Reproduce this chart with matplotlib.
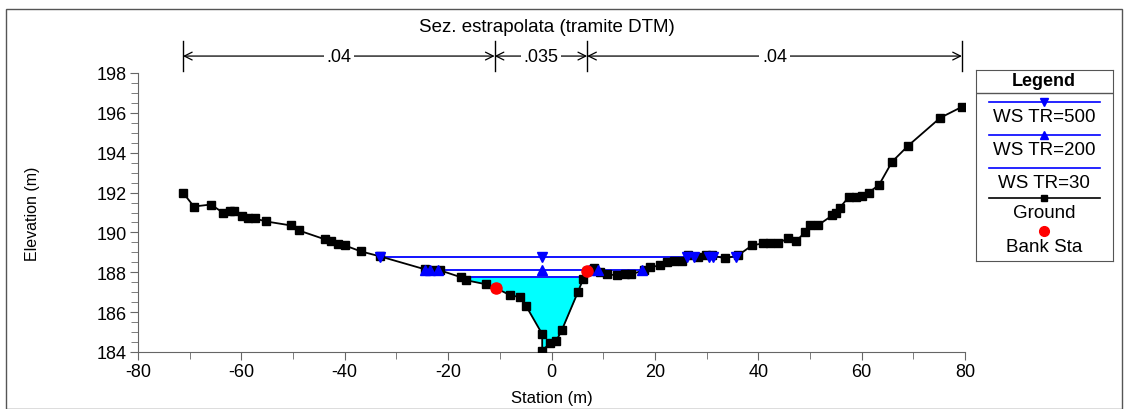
import numpy as np
import matplotlib
matplotlib.use('Agg')
import matplotlib.pyplot as plt
from matplotlib.patches import Rectangle

plt.rcParams['font.family'] = ['Liberation Sans', 'DejaVu Sans']
plt.rcParams['axes.unicode_minus'] = False

# Ground profile (station, elevation)
ground_x = [-71.3, -69.2, -65.9, -63.6, -62.2, -61.4, -59.9, -58.7, -57.4, -55.2,
            -50.4, -48.9, -43.8, -42.7, -41.3, -40.0, -36.9, -33.2, -24.5, -23.1,
            -21.6, -17.5, -16.5, -12.7, -10.7, -8.0, -6.1, -4.9, -1.8, -1.8,
            -0.3, 0.9, 2.0, 5.1, 6.1, 6.9, 8.2, 9.4, 10.7, 12.7,
            14.2, 15.4, 17.9, 19.1, 21.0, 22.3, 23.7, 25.2, 26.4, 28.3,
            29.9, 31.0, 33.6, 36.1, 38.8, 40.9, 42.3, 43.8, 45.7, 47.3,
            49.0, 50.0, 51.5, 54.3, 55.0, 55.8, 57.6, 58.9, 60.1, 61.4,
            63.4, 65.9, 69.0, 75.2, 79.4]
ground_y = [192.0, 191.3, 191.4, 191.0, 191.1, 191.1, 190.8, 190.7, 190.7, 190.55,
            190.35, 190.1, 189.65, 189.55, 189.4, 189.35, 189.05, 188.8, 188.15, 188.1,
            188.1, 187.75, 187.6, 187.4, 187.2, 186.85, 186.75, 186.3, 184.9, 184.05,
            184.45, 184.55, 185.1, 187.0, 187.65, 188.05, 188.2, 188.0, 187.9, 187.85,
            187.9, 187.9, 188.1, 188.25, 188.35, 188.5, 188.55, 188.55, 188.85, 188.75,
            188.85, 188.85, 188.7, 188.85, 189.35, 189.45, 189.45, 189.45, 189.7, 189.55,
            190.0, 190.35, 190.35, 190.85, 191.0, 191.25, 191.8, 191.8, 191.85, 192.0,
            192.4, 193.55, 194.35, 195.75, 196.3]

# Bank stations
bank_x = [-10.7, 6.9]
bank_y = [187.2, 188.05]

# Water surfaces
ws500 = 188.78
ws500_x = [-33.2, 36.1]
ws500_marks = [-33.2, -1.8, 26.2, 27.5, 30.4, 31.2, 35.6]
ws200 = 188.1
ws200_x = [-24.5, 18.5]
ws200_marks = [-24.5, -23.5, -22.0, -1.8, 7.2, 9.0, 17.6]
ws30 = 187.75
ws30_x = [-17.3, 6.2]

# Manning n regions
n_edges = [-71.3, -11.0, 6.9, 79.4]
n_values = ['.04', '.035', '.04']

W, H = 1128, 410
fig = plt.figure(figsize=(W / 100, H / 100), dpi=100)

# outer frame
fig.patches.append(Rectangle((6 / W, 0.5 / H), (1122 - 6) / W, (H - 10.5) / H,
                             transform=fig.transFigure, fill=False,
                             edgecolor='#555555', linewidth=1))

ax = fig.add_axes([138 / W, 1 - 353 / H, (965 - 138) / W, (353 - 74) / H])

gx = np.array(ground_x)
gy = np.array(ground_y)
ax.fill_between(gx, gy, ws30, where=(gy <= ws30) & (gx > -20) & (gx < 8),
                interpolate=True, color='#00FFFF', linewidth=0, zorder=1)

ax.plot(ws30_x, [ws30, ws30], color='#0000FF', linewidth=1.3, zorder=2)
ax.plot(ws200_x, [ws200, ws200], color='#0000FF', linewidth=1.3, zorder=2)
ax.plot(ws500_x, [ws500, ws500], color='#0000FF', linewidth=1.3, zorder=2)

ax.plot(gx, gy, color='black', linewidth=1.3, marker='s', markersize=6, zorder=3)

ax.plot(ws500_marks, [ws500] * len(ws500_marks), linestyle='none', marker='v',
        color='#0000FF', markersize=7, zorder=4)
ax.plot(ws200_marks, [ws200] * len(ws200_marks), linestyle='none', marker='^',
        color='#0000FF', markersize=7, zorder=4)
ax.plot(bank_x, bank_y, linestyle='none', marker='o', color='#FF0000',
        markersize=8, zorder=5)

ax.set_xlim(-80, 80)
ax.set_ylim(184, 198)
ax.set_xticks(np.arange(-80, 81, 20))
ax.set_xticks(np.arange(-80, 81, 10), minor=True)
ax.set_yticks(np.arange(184, 199, 2))
ax.set_yticks(np.arange(184, 198.1, 0.5), minor=True)
for s in ['top', 'right']:
    ax.spines[s].set_visible(False)
for s in ['left', 'bottom']:
    ax.spines[s].set_color('#666666')
ax.tick_params(which='both', direction='out', color='#666666', labelsize=13)
ax.tick_params(which='major', length=6, pad=2)
ax.tick_params(which='minor', length=5)
ax.set_xlabel('Station (m)', fontsize=12, labelpad=7)
ax.set_ylabel('Elevation (m)', fontsize=11.5, labelpad=41)

# Manning n bar above the plot
y_arrow = 198.85
for xe in n_edges:
    ax.plot([xe, xe], [198.1, 199.6], color='black', linewidth=1, clip_on=False)
for i, lab in enumerate(n_values):
    x0, x1 = n_edges[i], n_edges[i + 1]
    ax.annotate('', xy=(x0, y_arrow), xytext=(x1, y_arrow), annotation_clip=False,
                arrowprops=dict(arrowstyle='<->', color='black', linewidth=0.9,
                                shrinkA=0, shrinkB=0, mutation_scale=14))
    ax.text((x0 + x1) / 2, y_arrow, lab, ha='center', va='center', fontsize=13,
            bbox=dict(facecolor='white', edgecolor='none', pad=2), clip_on=False)

fig.text(547 / W, 1 - 28 / H, 'Sez. estrapolata (tramite DTM)', ha='center',
         va='center', fontsize=13.5)

# Legend box
lax = fig.add_axes([976 / W, 1 - 262 / H, (1113 - 976) / W, (262 - 71) / H])
lax.set_xlim(976, 1113)
lax.set_ylim(262, 71)
lax.set_xticks([])
lax.set_yticks([])
for s in lax.spines.values():
    s.set_color('#555555')
lax.axhline(94, color='#555555', linewidth=1)
lax.text(1044, 82, 'Legend', ha='center', va='center', fontsize=13, fontweight='bold')
entries = [
    (103, 118, 'WS TR=500', dict(color='#0000FF', marker='v', markersize=6)),
    (136, 151, 'WS TR=200', dict(color='#0000FF', marker='^', markersize=6)),
    (169, 184, 'WS TR=30', dict(color='#0000FF')),
    (199, 214, 'Ground', dict(color='black', marker='s', markersize=5)),
]
for ly, ty, lab, style in entries:
    lax.plot([989, 1044, 1100], [ly, ly, ly], linewidth=1.2, **style,
             markevery=[1] if 'marker' in style else None)
    lax.text(1044, ty, lab, ha='center', va='center', fontsize=13.5)
lax.plot([1044], [232], marker='o', color='#FF0000', markersize=7, linestyle='none')
lax.text(1044, 248, 'Bank Sta', ha='center', va='center', fontsize=13.5)

fig.savefig('out.png', dpi=100)
